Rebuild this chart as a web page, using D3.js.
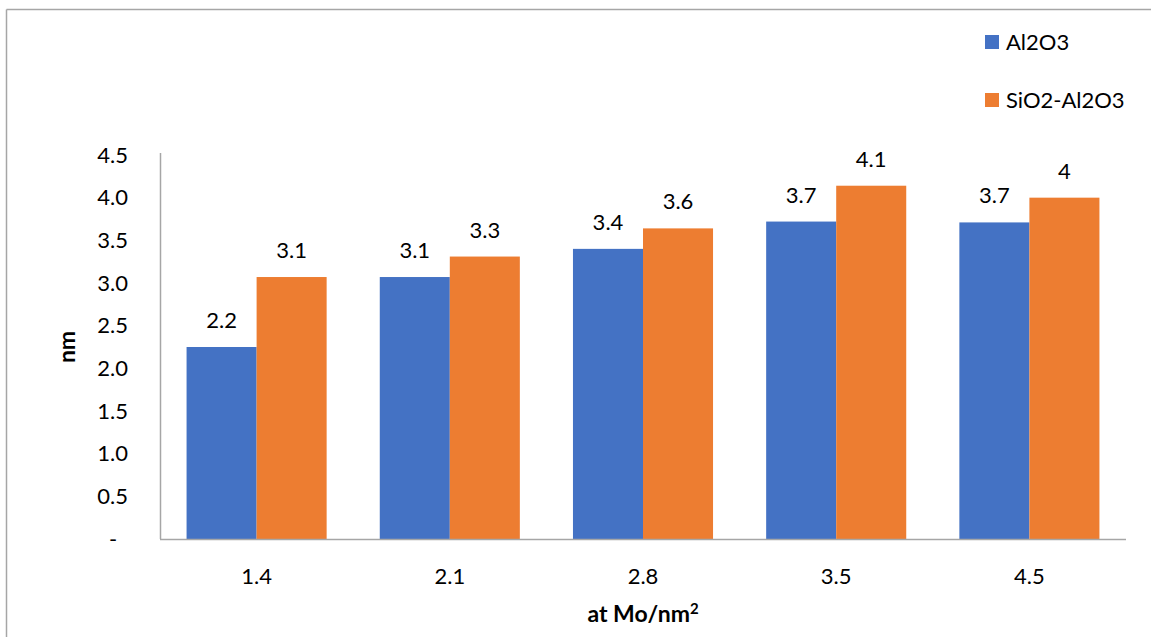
<!DOCTYPE html>
<html>
<head>
<meta charset="utf-8">
<script src="https://cdn.jsdelivr.net/npm/d3@7"></script>
<style>
  html, body { margin: 0; padding: 0; background: #fff; }
  svg { display: block; }
  text { font-family: Lato, "Open Sans", "Liberation Sans", sans-serif; fill: #000; }
</style>
</head>
<body>
<svg id="chart" width="1151" height="637"></svg>
<script>
const categories = ["1.4", "2.1", "2.8", "3.5", "4.5"];
const seriesNames = ["Al2O3", "SiO2-Al2O3"];
const al2o3 = [2.25, 3.07, 3.40, 3.72, 3.71];
const sio2al2o3 = [3.07, 3.31, 3.64, 4.14, 4.00];
const al2o3Labels = ["2.2", "3.1", "3.4", "3.7", "3.7"];
const sio2Labels = ["3.1", "3.3", "3.6", "4.1", "4"];
const yTicks = [0, 0.5, 1.0, 1.5, 2.0, 2.5, 3.0, 3.5, 4.0, 4.5];
const yTickLabels = ["-", "0.5", "1.0", "1.5", "2.0", "2.5", "3.0", "3.5", "4.0", "4.5"];
const colors = ["#4472C4", "#ED7D31"];

const svg = d3.select("#chart");
const W = 1151, H = 637;
const m = { left: 160, right: 1126, top: 155, bottom: 539 };
const FS = "22px";

// outer frame (top + left edges visible)
svg.append("line").attr("x1", 6.5).attr("x2", W).attr("y1", 9.5).attr("y2", 9.5)
  .attr("stroke", "#a6a6a6").attr("stroke-width", 1.5);
svg.append("line").attr("x1", 6.5).attr("x2", 6.5).attr("y1", 9.5).attr("y2", H)
  .attr("stroke", "#a6a6a6").attr("stroke-width", 1.5);

const x0 = d3.scaleBand().domain(categories).range([m.left, m.right]).paddingInner(0.275).paddingOuter(0.1375);
const x1 = d3.scaleBand().domain(seriesNames).range([0, x0.bandwidth()]);
const y = d3.scaleLinear().domain([0, 4.5]).range([m.bottom, m.top]);

const data = categories.map((c, i) => ({
  cat: c,
  vals: [
    { s: seriesNames[0], v: al2o3[i], label: al2o3Labels[i], color: colors[0] },
    { s: seriesNames[1], v: sio2al2o3[i], label: sio2Labels[i], color: colors[1] }
  ]
}));

const g = svg.append("g");
const groups = g.selectAll("g.cat").data(data).join("g")
  .attr("transform", d => `translate(${x0(d.cat)},0)`);

groups.selectAll("rect").data(d => d.vals).join("rect")
  .attr("x", d => x1(d.s))
  .attr("width", x1.bandwidth())
  .attr("y", d => y(d.v))
  .attr("height", d => y(0) - y(d.v))
  .attr("fill", d => d.color);

groups.selectAll("text.lbl").data(d => d.vals).join("text")
  .attr("class", "lbl")
  .attr("x", d => x1(d.s) + x1.bandwidth() / 2)
  .attr("y", d => y(d.v) - 19)
  .attr("text-anchor", "middle")
  .style("font-size", FS)
  .text(d => d.label);

// y axis
const yAxis = d3.axisLeft(y).tickValues(yTicks).tickSize(0).tickPadding(32)
  .tickFormat((d, i) => yTickLabels[i]);
const ya = svg.append("g").attr("transform", `translate(${m.left},0)`).call(yAxis);
ya.select(".domain").attr("stroke", "#a6a6a6").attr("stroke-width", 1.5)
  .attr("d", `M0.5,${m.top - 2}V${m.bottom}`);
ya.selectAll("text").style("font-size", FS).style("font-family", "Lato, 'Open Sans', sans-serif")
  .attr("fill", "#000")
  .attr("text-anchor", (d, i) => yTickLabels[i] === "-" ? "middle" : "end")
  .attr("x", (d, i) => yTickLabels[i] === "-" ? -47 : -32);

// x axis
const xAxis = d3.axisBottom(x0).tickSize(0).tickPadding(29);
const xa = svg.append("g").attr("transform", `translate(0,${m.bottom})`).call(xAxis);
xa.select(".domain").attr("stroke", "#a6a6a6").attr("stroke-width", 1.5)
  .attr("d", `M${m.left},0.5H${m.right}`);
xa.selectAll("text").style("font-size", FS).style("font-family", "Lato, 'Open Sans', sans-serif")
  .attr("fill", "#000");

// axis titles
svg.append("text")
  .attr("transform", `translate(75,${(m.top + m.bottom) / 2}) rotate(-90)`)
  .attr("text-anchor", "middle")
  .style("font-size", "23px").style("font-weight", "bold")
  .text("nm");

const xt = svg.append("text")
  .attr("x", (m.left + m.right) / 2).attr("y", 622)
  .attr("text-anchor", "middle")
  .style("font-size", "23px").style("font-weight", "bold");
xt.append("tspan").text("at Mo/nm");
xt.append("tspan").attr("dy", -8).style("font-size", "15px").text("2");

// legend
const legend = svg.append("g");
const legY = [42, 100];
seriesNames.forEach((s, i) => {
  legend.append("rect").attr("x", 985).attr("y", legY[i] - 7).attr("width", 14).attr("height", 14)
    .attr("fill", colors[i]);
  legend.append("text").attr("x", 1006).attr("y", legY[i]).attr("dy", "0.35em")
    .style("font-size", FS).text(s);
});
</script>
</body>
</html>
